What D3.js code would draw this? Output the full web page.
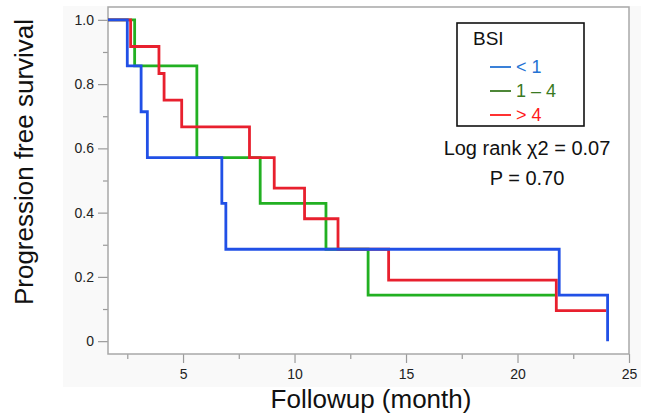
<!DOCTYPE html>
<html lang="en">
<head>
<meta charset="utf-8">
<title>Progression free survival by BSI</title>
<script src="https://cdn.jsdelivr.net/npm/d3@7/dist/d3.min.js"></script>
<style>
  body { margin: 0; background: #fff; }
  text { font-family: "Liberation Sans", Arial, sans-serif; }
</style>
</head>
<body>
<script type="text/javascript">

var width = 646;
var height = 415;

// Kaplan-Meier steps: event time (month) and survival after it
var blueTimes = [0, 2.50, 3.12, 3.40, 6.74, 6.92, 21.87, 24.04];
var blueSurv  = [1, 0.857, 0.714, 0.571, 0.429, 0.286, 0.143, 0];

var greenTimes = [0, 2.83, 5.62, 8.46, 11.41, 13.30, 21.74];
var greenSurv  = [1, 0.857, 0.571, 0.429, 0.286, 0.143, 0.143];

var redTimes = [0, 2.65, 3.92, 4.15, 4.94, 7.98, 9.09, 10.45, 11.95, 14.22, 21.74, 23.98];
var redSurv  = [1, 0.917, 0.833, 0.750, 0.667, 0.571, 0.476, 0.381, 0.286, 0.190, 0.095, 0.095];

var groupNames = ["< 1", "1 \u2013 4", "> 4"];
var lineColors = ["#2150e6", "#22b022", "#e8202e"];
var textColors = ["#2473d4", "#3a7a22", "#ff1a1a"];

var xTicks = [5, 10, 15, 20, 25];
var xMinor = [2.5, 7.5, 12.5, 17.5, 22.5];
var yTicks = [0, 0.2, 0.4, 0.6, 0.8, 1.0];
var yMinor = [0.1, 0.3, 0.5, 0.7, 0.9];

var statLines = ["Log rank \u03c72 = 0.07", "P = 0.70"];

var plot = { left: 108, right: 629, top: 7, bottom: 354 };

var svg = d3.select("body").append("svg")
            .attr("width", width)
            .attr("height", height);

// faint panel behind the plot
svg.append("rect")
    .attr("x", 63).attr("y", 6)
    .attr("width", 578).attr("height", 381)
    .attr("fill", "#f9f9f9");

svg.append("rect")
    .attr("x", plot.left).attr("y", plot.top)
    .attr("width", plot.right - plot.left).attr("height", plot.bottom - plot.top)
    .attr("fill", "#fff");

var x = d3.scaleLinear().domain([1.635, 25]).range([plot.left, plot.right]);
var y = d3.scaleLinear().domain([-0.04, 1.04]).range([plot.bottom, plot.top]);

// y axis
var yAxis = d3.axisLeft(y).tickValues(yTicks).tickSize(10).tickPadding(4)
    .tickFormat(d => d === 0 ? "0" : d3.format(".1f")(d));
var gy = svg.append("g").attr("transform", "translate(" + plot.left + ",0)").call(yAxis);
gy.select(".domain").remove();
gy.selectAll("line").attr("stroke", "#9a9a9a").attr("stroke-width", 1.2);
gy.selectAll("text").attr("font-size", 14).attr("fill", "#222")
    .style("font-family", "'Liberation Sans', Arial, sans-serif");

var gy2 = svg.append("g").attr("transform", "translate(" + plot.left + ",0)")
    .call(d3.axisLeft(y).tickValues(yMinor).tickSize(5).tickFormat(""));
gy2.select(".domain").remove();
gy2.selectAll("line").attr("stroke", "#9a9a9a").attr("stroke-width", 1.2);

// x axis
var xAxis = d3.axisBottom(x).tickValues(xTicks).tickSize(9).tickPadding(6);
var gx = svg.append("g").attr("transform", "translate(0," + plot.bottom + ")").call(xAxis);
gx.select(".domain").remove();
gx.selectAll("line").attr("stroke", "#9a9a9a").attr("stroke-width", 1.2);
gx.selectAll("text").attr("font-size", 14).attr("fill", "#222")
    .style("font-family", "'Liberation Sans', Arial, sans-serif");

var gx2 = svg.append("g").attr("transform", "translate(0," + plot.bottom + ")")
    .call(d3.axisBottom(x).tickValues(xMinor).tickSize(5).tickFormat(""));
gx2.select(".domain").remove();
gx2.selectAll("line").attr("stroke", "#9a9a9a").attr("stroke-width", 1.2);

// frame
svg.append("rect")
    .attr("x", plot.left).attr("y", plot.top)
    .attr("width", plot.right - plot.left).attr("height", plot.bottom - plot.top)
    .attr("fill", "none").attr("stroke", "#a8a8a8").attr("stroke-width", 1.5);

// curves
svg.append("clipPath").attr("id", "clip").append("rect")
    .attr("x", plot.left).attr("y", plot.top)
    .attr("width", plot.right - plot.left).attr("height", plot.bottom - plot.top);

var line = d3.line()
    .x(d => x(d[0]))
    .y(d => y(d[1]))
    .curve(d3.curveStepAfter);

var series = [
    { times: greenTimes, surv: greenSurv, color: lineColors[1] },
    { times: redTimes, surv: redSurv, color: lineColors[2] },
    { times: blueTimes, surv: blueSurv, color: lineColors[0] }
];

svg.append("g").attr("clip-path", "url(#clip)")
    .selectAll("path")
    .data(series)
    .enter()
    .append("path")
    .attr("d", s => line(s.times.map((t, i) => [t, s.surv[i]])))
    .attr("fill", "none")
    .attr("stroke", s => s.color)
    .attr("stroke-width", 2.8);

// legend
svg.append("rect")
    .attr("x", 457).attr("y", 23)
    .attr("width", 127).attr("height", 103)
    .attr("fill", "#fff").attr("stroke", "#111").attr("stroke-width", 1.6);

svg.append("text").attr("x", 473).attr("y", 45)
    .attr("font-size", 19).attr("fill", "#111").text("BSI");

var items = svg.selectAll(".item")
    .data(groupNames)
    .enter()
    .append("g")
    .attr("class", "item")
    .attr("transform", (d, i) => "translate(0," + (i * 24) + ")");

items.append("line")
    .attr("x1", 490).attr("x2", 511)
    .attr("y1", 67).attr("y2", 67)
    .attr("stroke", (d, i) => textColors[i]).attr("stroke-width", 1.8);

items.append("text")
    .attr("x", 516).attr("y", 73)
    .attr("font-size", 18)
    .attr("fill", (d, i) => textColors[i])
    .text(d => d);

svg.selectAll(".stat")
    .data(statLines)
    .enter()
    .append("text")
    .attr("class", "stat")
    .attr("x", 527).attr("y", (d, i) => 155 + i * 30)
    .attr("text-anchor", "middle")
    .attr("font-size", 20).attr("fill", "#111")
    .text(d => d);

// axis titles
svg.append("text")
    .attr("x", 371).attr("y", 408)
    .attr("text-anchor", "middle")
    .attr("font-size", 26).attr("fill", "#111")
    .text("Followup (month)");

svg.append("text")
    .attr("transform", "translate(33,162) rotate(-90)")
    .attr("text-anchor", "middle")
    .attr("font-size", 26).attr("fill", "#111")
    .text("Progression free survival");

</script>
</body>
</html>
